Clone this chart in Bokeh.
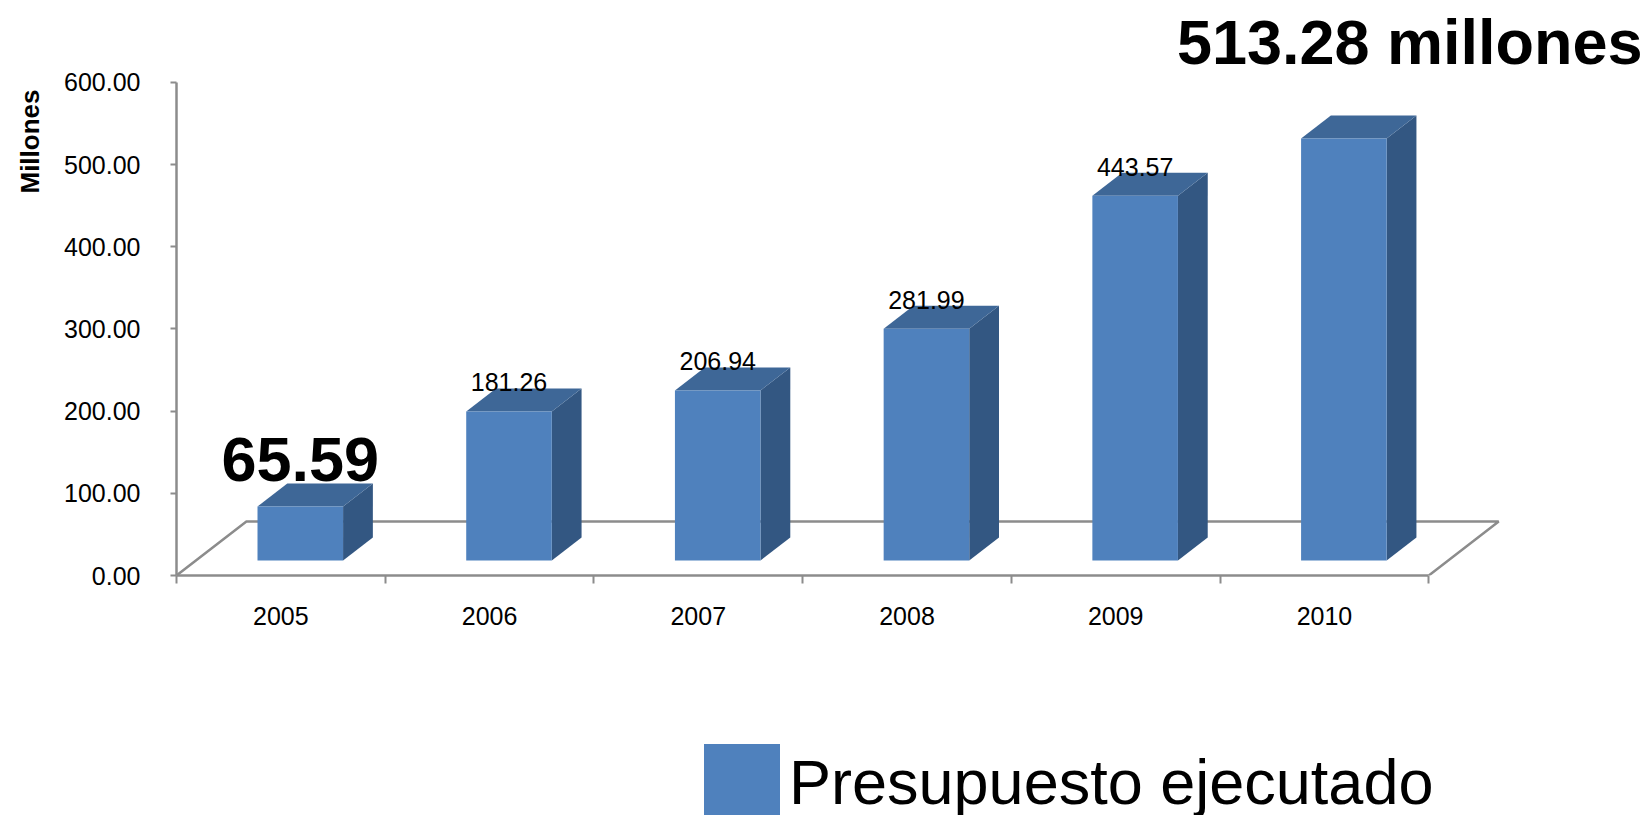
from bokeh.plotting import figure
from bokeh.models import (Range1d, FixedTicker, NumeralTickFormatter, Legend, LegendItem,
                          Label, Title, ColumnDataSource)
from bokeh.layouts import column
from bokeh.embed import file_html
from bokeh.resources import INLINE
from bokeh.core.properties import value

# ---- data ----
years = ["2005", "2006", "2007", "2008", "2009", "2010"]
budget = [65.59, 181.26, 206.94, 281.99, 443.57, 513.28]
small_labels = ["", "181.26", "206.94", "281.99", "443.57", ""]
y_ticks = [0, 100, 200, 300, 400, 500, 600]
big_first = "65.59"
big_last = "513.28 millones"
series_name = "Presupuesto ejecutado"
axis_title = "Millones"

# ---- geometry / style ----
PX_X = 209.0   # pixels per category
PX_Y = 0.822   # pixels per value unit
W = 1646
TOTAL_H = 815
ML, MR, MT, MB = 174, 2, 9, 80
FH = 566
H1 = MT + FH + MB
H2 = TOTAL_H - H1
fw = W - ML - MR
DX = 70 / PX_X      # floor depth in category units
DY = 54 / PX_Y      # floor depth in value units
F1, F2 = 0.278, 0.704
HALF = 0.205
FRONT, SIDE, TOP = "#4F81BD", "#335782", "#3E6797"
GRAY = "#8C8C8C"
FONT = "Liberation Sans"

n = len(years)
p = figure(width=W, height=H1, output_backend="svg", toolbar_location=None,
           x_range=Range1d(0, fw / PX_X), y_range=Range1d(0, FH / PX_Y),
           min_border_left=ML, min_border_right=MR, min_border_top=MT,
           min_border_bottom=MB, title=None)
p.outline_line_color = None
p.xgrid.visible = False
p.ygrid.visible = False
p.background_fill_color = "white"
p.border_fill_color = "white"

# floor outline
p.line([0, DX, n + DX, n], [0, DY, DY, 0], line_color=GRAY, line_width=2.5)

front_xs, front_ys, side_xs, side_ys, top_xs, top_ys = [], [], [], [], [], []
ddx, ddy = (F2 - F1) * DX, (F2 - F1) * DY
for i, v in enumerate(budget):
    c = i + 0.5
    l, r = c - HALF + F1 * DX, c + HALF + F1 * DX
    b, t = F1 * DY, v + F1 * DY
    front_xs.append([l, r, r, l]); front_ys.append([b, b, t, t])
    side_xs.append([r, r + ddx, r + ddx, r]); side_ys.append([b, b + ddy, t + ddy, t])
    top_xs.append([l, r, r + ddx, l + ddx]); top_ys.append([t, t, t + ddy, t + ddy])

front_src = ColumnDataSource(data=dict(xs=front_xs, ys=front_ys))
p.patches(side_xs, side_ys, fill_color=SIDE, line_color=None)
p.patches(top_xs, top_ys, fill_color=TOP, line_color=None)
p.patches(xs="xs", ys="ys", source=front_src, fill_color=FRONT, line_color=None)

# small data labels
lx = [i + 0.5 + F1 * DX for i in range(n)]
ly = [v + F1 * DY + 29 / PX_Y for v in budget]
p.text(x=lx, y=ly, text=small_labels, text_align="center", text_baseline="alphabetic",
       text_font=value(FONT), text_font_size="25px", text_color="black")

# big labels
p.add_layout(Label(x=lx[0], y=budget[0] + F1 * DY + 47 / PX_Y, text=big_first,
                   text_align="center", text_baseline="alphabetic", text_font=FONT,
                   text_font_size="63px", text_font_style="bold", text_color="black"))
p.add_layout(Label(x=lx[-1] + 66 / PX_X, y=budget[-1] + F1 * DY + 97 / PX_Y, text=big_last,
                   text_align="center", text_baseline="alphabetic", text_font=FONT,
                   text_font_size="63px", text_font_style="bold", text_color="black"))

# y axis
ya = p.yaxis[0]
ya.ticker = FixedTicker(ticks=y_ticks)
ya.formatter = NumeralTickFormatter(format="0.00")
ya.bounds = (0, 600)
ya.major_tick_out = 6
ya.major_tick_in = 0
ya.minor_tick_out = 0
ya.minor_tick_in = 0
ya.axis_line_color = GRAY
ya.axis_line_width = 2.5
ya.major_tick_line_color = GRAY
ya.major_tick_line_width = 2
ya.major_label_text_font = FONT
ya.major_label_text_font_size = "25px"
ya.major_label_text_color = "black"
ya.major_label_standoff = 30

# y axis title (vertical, near the top)
p.add_layout(Title(text=axis_title, align="right", vertical_align="top", offset=80,
                   standoff=29, text_font=FONT, text_font_size="26px",
                   text_font_style="bold", text_color="black"), "left")

# x axis
xa = p.xaxis[0]
xa.ticker = FixedTicker(ticks=[i + 0.5 for i in range(n)], minor_ticks=list(range(n + 1)))
xa.major_label_overrides = {i + 0.5: yname for i, yname in enumerate(years)}
xa.bounds = (0, n)
xa.major_tick_out = 0
xa.major_tick_in = 0
xa.minor_tick_out = 8
xa.minor_tick_in = 0
xa.minor_tick_line_color = GRAY
xa.minor_tick_line_width = 2
xa.axis_line_color = GRAY
xa.axis_line_width = 2.5
xa.major_label_text_font = FONT
xa.major_label_text_font_size = "25px"
xa.major_label_text_color = "black"
xa.major_label_standoff = 23

# ---- legend strip below the chart ----
q = figure(width=W, height=H2, output_backend="svg", toolbar_location=None,
           x_range=Range1d(0, 1), y_range=Range1d(0, 1),
           x_axis_location=None, y_axis_location=None,
           min_border_left=0, min_border_right=0, min_border_top=0, min_border_bottom=0,
           title=None)
q.outline_line_color = None
q.xgrid.visible = False
q.ygrid.visible = False
swatch = q.patches(xs="xs", ys="ys", source=front_src, fill_color=FRONT, line_color=None,
                   visible=False)
legend = Legend(items=[LegendItem(label=series_name, renderers=[swatch])],
                location=(518, -14), orientation="horizontal",
                glyph_width=95, glyph_height=95, label_standoff=0,
                label_text_font=FONT, label_text_font_size="63px", label_text_color="black",
                padding=0, margin=0, spacing=0, border_line_alpha=0, background_fill_alpha=0)
q.add_layout(legend)

layout = column(p, q, spacing=0)
open("out.html", "w").write(file_html(layout, INLINE))
